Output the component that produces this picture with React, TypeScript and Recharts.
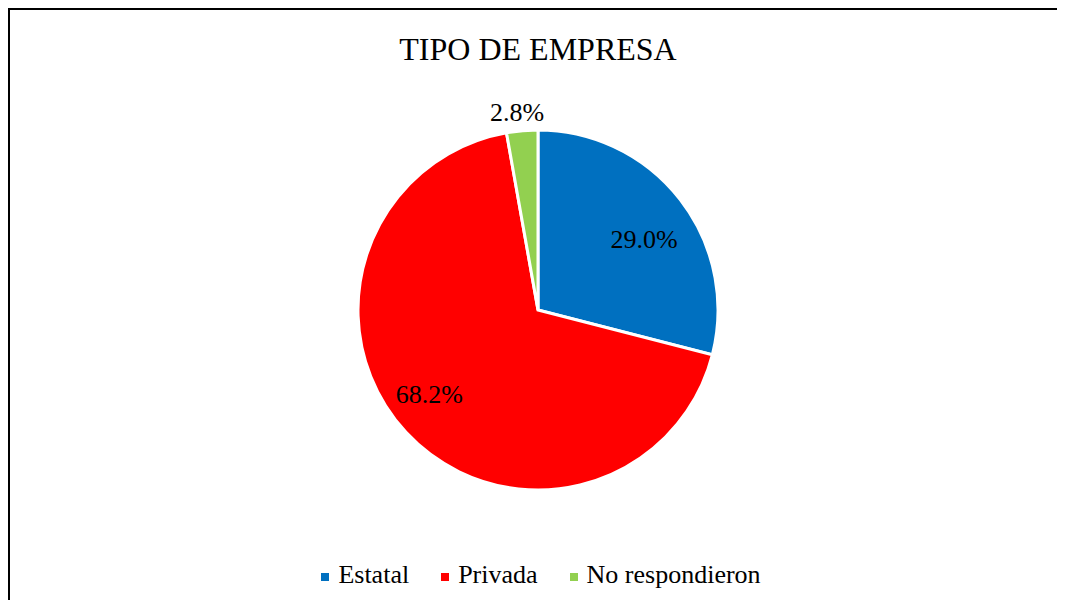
import { PieChart, Pie, Cell } from "recharts";

// Tipo de empresa — percentages
const CATEGORIES = ["Estatal", "Privada", "No respondieron"];
const VALUES = [29.0, 68.2, 2.8];
const COLORS = ["#0070C0", "#FF0000", "#92D050"];

const FONT = "'Liberation Serif', 'Times New Roman', Times, serif";

// label placement: radius as share of outer radius, plus a small angle nudge
const LABEL_RADIUS = [0.71, 0.765, 1.105];
const LABEL_NUDGE = [-4, -5, 1];

const data = CATEGORIES.map((name, i) => ({ name, value: VALUES[i] }));

const RAD = Math.PI / 180;

// eslint-disable-next-line @typescript-eslint/no-explicit-any
function renderLabel(props: any) {
  const { cx, cy, midAngle, outerRadius, index, value } = props;
  const r = outerRadius * LABEL_RADIUS[index];
  const a = (midAngle + LABEL_NUDGE[index]) * RAD;
  const x = cx + r * Math.cos(a);
  const y = cy - r * Math.sin(a);
  return (
    <text
      x={x}
      y={y + 9}
      textAnchor="middle"
      fill="#000"
      style={{ fontFamily: FONT, fontSize: 26 }}
    >
      {value.toFixed(1)}%
    </text>
  );
}

function LegendRow() {
  return (
    <div
      style={{
        position: "absolute",
        top: 552,
        left: 6,
        width: 1050,
        display: "flex",
        justifyContent: "center",
        fontFamily: FONT,
        fontSize: 26,
        lineHeight: "26px",
        color: "#000",
      }}
    >
      {CATEGORIES.map((c, i) => (
        <div
          key={c}
          style={{ display: "flex", alignItems: "center", marginRight: i < CATEGORIES.length - 1 ? 32 : 0 }}
        >
          <span
            style={{
              display: "inline-block",
              width: 8,
              height: 8,
              background: COLORS[i],
              marginRight: 9,
              marginTop: 3,
            }}
          />
          <span>{c}</span>
        </div>
      ))}
    </div>
  );
}

export default function App() {
  return (
    <div
      style={{
        position: "relative",
        width: 1055,
        height: 598,
        marginBottom: -8,
        borderTop: "2px solid #000",
        borderLeft: "2px solid #000",
        background: "#fff",
        overflow: "hidden",
        fontFamily: FONT,
      }}
    >
      <div
        style={{
          position: "absolute",
          top: 23,
          left: 0,
          width: 1056,
          textAlign: "center",
          fontSize: 32,
          lineHeight: "32px",
          color: "#000",
        }}
      >
        TIPO DE EMPRESA
      </div>
      <PieChart
        width={1055}
        height={598}
        margin={{ top: 0, right: 0, bottom: 0, left: 0 }}
        style={{ fontFamily: FONT }}
      >
        <Pie
          data={data}
          dataKey="value"
          nameKey="name"
          cx={528}
          cy={300}
          outerRadius={180}
          startAngle={90}
          endAngle={-270}
          stroke="#fff"
          strokeWidth={3}
          label={renderLabel}
          labelLine={false}
          isAnimationActive={false}
        >
          {data.map((d, i) => (
            <Cell key={d.name} fill={COLORS[i]} />
          ))}
        </Pie>
      </PieChart>
      <LegendRow />
    </div>
  );
}
